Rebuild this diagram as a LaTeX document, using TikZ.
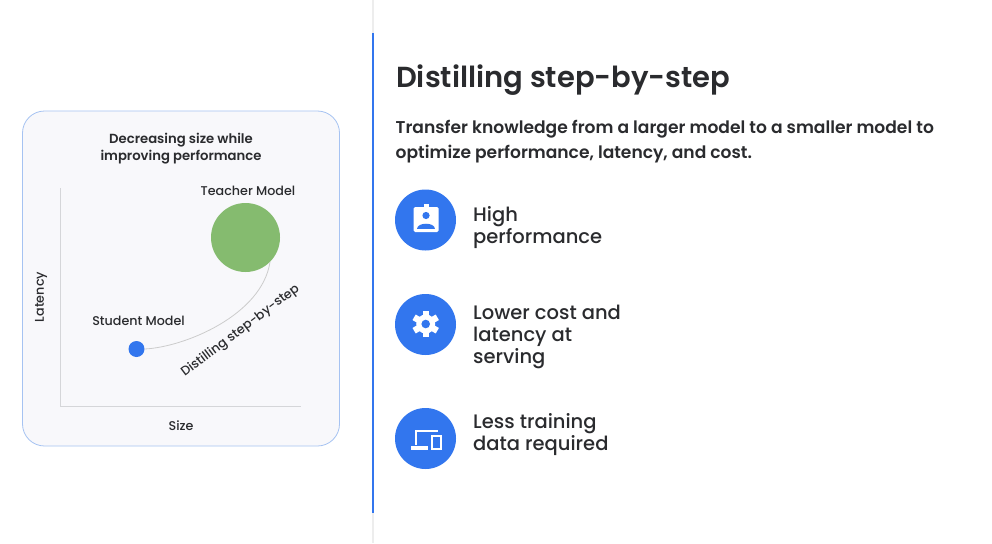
\documentclass[tikz,border=0pt]{standalone}
\usepackage{fontspec}
\setmainfont{Poppins}
\newfontfamily\medfont{Poppins Medium}
\newfontfamily\semifont{Poppins SemiBold}
\usetikzlibrary{arrows.meta}
\definecolor{gblue}{HTML}{3276EE}
\definecolor{ggreen}{HTML}{85BB6F}
\definecolor{ink}{HTML}{2A2B2E}
\definecolor{panelfill}{HTML}{F8F8FB}
\definecolor{panelline}{HTML}{A6C3F2}
\definecolor{axisline}{HTML}{D5D6D9}
\tikzset{
  x=1pt,y=-1pt,
  lbl/.style={inner sep=0pt,text=ink,font=\medfont\fontsize{12.7}{15}\selectfont},
  feature/.style={inner sep=0pt,text=ink,anchor=west,align=left,font=\medfont\fontsize{19.5}{22}\selectfont},
  iconcircle/.style={circle,fill=gblue,minimum size=61pt,inner sep=0pt},
  iconpart/.style={fill=white,draw=none},
}
\begin{document}
\begin{tikzpicture}
\useasboundingbox (0,0) rectangle (992,543);
\fill[white] (0,0) rectangle (992,543);
% divider
\fill[black!7] (371.5,0) rectangle (373.5,543);
\coordinate (divtop) at (372.5,33);
\coordinate (divbot) at (372.5,513);
\draw[gblue,line width=2pt] (divtop) -- (divbot);
% panel
\node[draw=panelline,fill=panelfill,rounded corners=22pt,line width=0.8pt,minimum width=317pt,minimum height=335pt,inner sep=0pt] (panel) at (181,278.5) {};
\node[inner sep=0pt,align=center,text=ink,font=\semifont\fontsize{13.2}{17.5}\selectfont] (ptitle) at (181,148.5) {Decreasing size while\\improving performance};
% axes
\coordinate (origin) at (60,406);
\coordinate (ytop) at (60,188);
\coordinate (xend) at (301,406);
\draw[axisline,line width=0.8pt] (ytop) -- (origin) -- (xend);
\node[lbl,rotate=90] (ylab) at (41,297) {Latency};
\node[lbl] (xlab) at (181,426) {Size};
% models
\node[circle,fill=ggreen,minimum size=69pt,inner sep=0pt] (teacher) at (245.5,237.5) {};
\node[circle,fill=gblue,minimum size=16pt,inner sep=0pt] (student) at (136.5,349) {};
\node[lbl] (tlab) at (248,191) {Teacher Model};
\node[lbl] (slab) at (138.5,321) {Student Model};
\draw[black!20,line width=0.8pt] (270,262) .. controls (262,315) and (185,347) .. (student.east);
\node[lbl,rotate=37] (dlab) at (240.5,331) {Distilling step-by-step};
% right text
\node[inner sep=0pt,anchor=west,text=ink,font=\semifont\fontsize{29}{36}\selectfont] (title) at (396,80.5) {Distilling step-by-step};
\node[inner sep=0pt,anchor=west,align=left,text=ink,font=\semifont\fontsize{17.1}{25.5}\selectfont] (sub) at (395.5,141.5) {Transfer knowledge from a larger model to a smaller model to\\optimize performance, latency, and cost.};
% icons
\node[iconcircle] (c1) at (425.5,220) {};
\node[iconcircle] (c2) at (425.5,324.5) {};
\node[iconcircle] (c3) at (425.5,438.5) {};
\node[feature] (f1) at (473,228) {High\\performance};
\node[feature] (f2) at (473,337) {Lower cost and\\latency at\\serving};
\node[feature] (f3) at (473,434.5) {Less training\\data required};
% badge icon
\fill[iconpart,rounded corners=1.5pt] (413.5,207) rectangle (438.5,232);
\fill[iconpart] (423.5,204) rectangle (428.5,208);
\fill[gblue] (426,215.5) circle (3.6);
\fill[gblue] (417,229) .. controls (417,221.5) and (435,221.5) .. (435,229) -- cycle;
% gear icon
\fill[iconpart] (425.7,324) circle (9.5);
\foreach \a in {0,60,...,300}{
  \fill[iconpart,rotate around={\a:(425.7,324)}] (422.5,310.6) rectangle (428.9,318);
}
\fill[gblue] (425.7,324) circle (4.3);
% devices icon
\draw[white,line width=2pt] (415.5,445) -- (415.5,431) -- (438,431);
\fill[iconpart] (410.5,445.5) rectangle (428,449.5);
\draw[white,line width=2pt] (431.5,436) rectangle (440.5,449);
\end{tikzpicture}
\end{document}
